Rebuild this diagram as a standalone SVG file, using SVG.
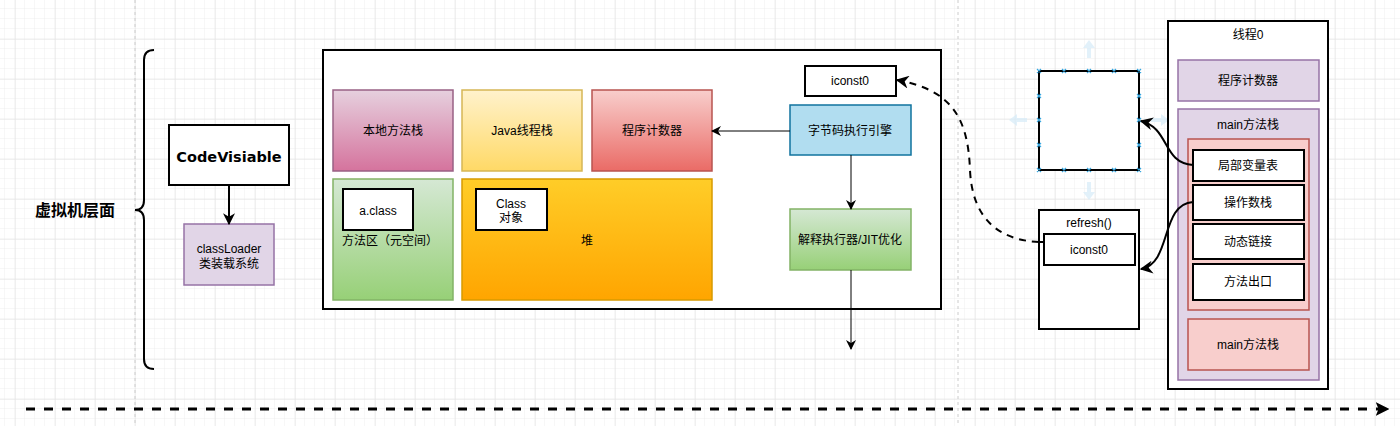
<svg xmlns="http://www.w3.org/2000/svg" width="1400" height="426" viewBox="0 0 1400 426">
<defs>
<pattern id="minor" width="10" height="10" patternUnits="userSpaceOnUse" x="5" y="9">
<path d="M10 0 V10 M0 10 H10" fill="none" stroke="#eeeeee" stroke-width="1"/>
</pattern>
<pattern id="major" width="40" height="40" patternUnits="userSpaceOnUse" x="15" y="-1">
<path d="M0 0 V40 M0 0 H40" fill="none" stroke="#e2e2e2" stroke-width="1"/>
</pattern>
<linearGradient id="gPink" x1="0" y1="0" x2="0" y2="1"><stop offset="0" stop-color="#e6d0de"/><stop offset="1" stop-color="#d5739d"/></linearGradient>
<linearGradient id="gYellow" x1="0" y1="0" x2="0" y2="1"><stop offset="0" stop-color="#fff2cc"/><stop offset="1" stop-color="#ffd966"/></linearGradient>
<linearGradient id="gRed" x1="0" y1="0" x2="0" y2="1"><stop offset="0" stop-color="#f8cecc"/><stop offset="1" stop-color="#ea6b66"/></linearGradient>
<linearGradient id="gGreen" x1="0" y1="0" x2="0" y2="1"><stop offset="0" stop-color="#d5e8d4"/><stop offset="1" stop-color="#97d077"/></linearGradient>
<linearGradient id="gOrange" x1="0" y1="0" x2="0" y2="1"><stop offset="0" stop-color="#ffcd28"/><stop offset="1" stop-color="#ffa500"/></linearGradient>
<marker id="arr" viewBox="0 0 10 10" refX="9" refY="5" markerWidth="10" markerHeight="10" markerUnits="userSpaceOnUse" orient="auto">
<path d="M0,0 L10,5 L0,10 L3,5 Z" fill="#000"/>
</marker>
<marker id="arrBigS" viewBox="0 0 10 10" refX="9" refY="5" markerWidth="6" markerHeight="6" markerUnits="strokeWidth" orient="auto">
<path d="M0,0 L10,5 L0,10 L3,5 Z" fill="#000"/>
</marker>
<marker id="arrDash" viewBox="0 0 10 10" refX="9" refY="5" markerWidth="6.5" markerHeight="6.5" markerUnits="strokeWidth" orient="auto">
<path d="M0,0 L10,5 L0,10 L3,5 Z" fill="#000"/>
</marker>
<marker id="arrBottom" viewBox="0 0 10 10" refX="9" refY="5" markerWidth="4.5" markerHeight="4.5" markerUnits="strokeWidth" orient="auto">
<path d="M0,0 L10,5 L0,10 L2,5 Z" fill="#000"/>
</marker>
</defs>
<style>
text{font-family:"Liberation Sans","Noto Sans CJK SC",sans-serif;font-size:12px;fill:#000;text-anchor:middle;dominant-baseline:central}
.box{stroke:#000;stroke-width:2;fill:#fff}
.edge{fill:none;stroke:#000}
.xm{stroke:#3aa8e0;stroke-width:1.2}
.hint{fill:#d6ebf8;opacity:0.7}
</style>
<rect width="1400" height="426" fill="#fff"/>
<rect width="1400" height="426" fill="url(#minor)"/>
<rect width="1400" height="426" fill="url(#major)"/>
<path d="M135 0 V426 M958 0 V426" stroke="#cccccc" stroke-width="1" stroke-dasharray="3 3"/>

<g id="brace">
<path d="M154,50 Q144,50 144,60 L144,200 Q144,210 135,210 Q144,210 144,220 L144,359 Q144,369 154,369" fill="none" stroke="#000" stroke-width="2"/>
</g>
<g id="jvm-label"><text x="75" y="210" style="font-size:16px;font-weight:bold">虚拟机层面</text></g>

<g id="codevisiable">
<rect class="box" x="169" y="125" width="120" height="60"/>
<text x="229" y="157" style="font-family:'DejaVu Sans','Noto Sans CJK SC',sans-serif;font-size:14.5px;font-weight:bold">CodeVisiable</text>
</g>
<g id="classloader">
<rect x="184" y="224" width="90" height="61" fill="#e1d5e7" stroke="#9673a6" stroke-width="1.5"/>
<text x="229" y="249">classLoader</text>
<text x="229" y="264">类装载系统</text>
</g>

<g id="runtime">
<rect class="box" x="323" y="50" width="618" height="259"/>
</g>
<g id="native-stack">
<rect x="333" y="90" width="120" height="81" fill="url(#gPink)" stroke="#996185" stroke-width="1.5"/>
<text x="393" y="131">本地方法栈</text>
</g>
<g id="java-stack">
<rect x="462" y="90" width="120" height="81" fill="url(#gYellow)" stroke="#d6b656" stroke-width="1.5"/>
<text x="522" y="131">Java线程栈</text>
</g>
<g id="pc">
<rect x="592" y="90" width="120" height="81" fill="url(#gRed)" stroke="#b85450" stroke-width="1.5"/>
<text x="652" y="131">程序计数器</text>
</g>
<g id="method-area">
<rect x="333" y="179" width="120" height="121" fill="url(#gGreen)" stroke="#82b366" stroke-width="1.5"/>
<text x="390" y="241">方法区（元空间）</text>
</g>
<g id="aclass">
<rect class="box" x="343" y="189" width="70" height="41"/>
<text x="378" y="211">a.class</text>
</g>
<g id="heap">
<rect x="462" y="179" width="250" height="121" fill="url(#gOrange)" stroke="#d79b00" stroke-width="1.5"/>
<text x="587" y="241">堆</text>
</g>
<g id="class-obj">
<rect class="box" x="476" y="189" width="71" height="41"/>
<text x="511" y="204">Class</text>
<text x="511" y="218">对象</text>
</g>
<g id="iconst0-a">
<rect class="box" x="805" y="66" width="91" height="30"/>
<text x="850" y="81">iconst0</text>
</g>
<g id="engine">
<rect x="790" y="105" width="121" height="50" fill="#b1ddf0" stroke="#10739e" stroke-width="1.5"/>
<text x="850" y="131">字节码执行引擎</text>
</g>
<g id="interp">
<rect x="790" y="209" width="121" height="61" fill="url(#gGreen)" stroke="#82b366" stroke-width="1.5"/>
<text x="850" y="240">解释执行器/JIT优化</text>
</g>

<g id="hover-hints">
<path class="hint" d="M1089,40 L1083,48 L1087,48 L1087,58 L1091,58 L1091,48 L1095,48 Z"/>
<path class="hint" d="M1089,200 L1083,192 L1087,192 L1087,182 L1091,182 L1091,192 L1095,192 Z"/>
<path class="hint" d="M1009,120 L1017,114 L1017,118 L1027,118 L1027,122 L1017,122 L1017,126 Z"/>
<path class="hint" d="M1169,120 L1161,114 L1161,118 L1151,118 L1151,122 L1161,122 L1161,126 Z"/>
</g>
<g id="empty-frame">
<rect class="box" x="1039" y="71" width="100" height="99"/>
<g class="xm">
<path d="M1037,69 l4,4 m0,-4 l-4,4 M1062,69 l4,4 m0,-4 l-4,4 M1087,69 l4,4 m0,-4 l-4,4 M1112,69 l4,4 m0,-4 l-4,4 M1137,69 l4,4 m0,-4 l-4,4"/>
<path d="M1037,168 l4,4 m0,-4 l-4,4 M1062,168 l4,4 m0,-4 l-4,4 M1087,168 l4,4 m0,-4 l-4,4 M1112,168 l4,4 m0,-4 l-4,4 M1137,168 l4,4 m0,-4 l-4,4"/>
<path d="M1037,94 l4,4 m0,-4 l-4,4 M1037,118 l4,4 m0,-4 l-4,4 M1037,143 l4,4 m0,-4 l-4,4"/>
<path d="M1137,94 l4,4 m0,-4 l-4,4 M1137,118 l4,4 m0,-4 l-4,4 M1137,143 l4,4 m0,-4 l-4,4"/>
</g>
</g>
<g id="refresh-frame">
<rect class="box" x="1039" y="210" width="100" height="119"/>
<text x="1089" y="223">refresh()</text>
</g>
<g id="iconst0-b">
<rect class="box" x="1044" y="234" width="91" height="31"/>
<text x="1089" y="250">iconst0</text>
</g>

<g id="thread0">
<rect class="box" x="1168" y="21" width="160" height="368"/>
<text x="1248" y="35">线程0</text>
</g>
<g id="thread-pc">
<rect x="1178" y="60" width="141" height="41" fill="#e1d5e7" stroke="#9673a6" stroke-width="1.5"/>
<text x="1248" y="81">程序计数器</text>
</g>
<g id="main-stack">
<rect x="1178" y="109" width="141" height="271" fill="#e1d5e7" stroke="#9673a6" stroke-width="1.5"/>
<text x="1248" y="125">main方法栈</text>
</g>
<g id="frame">
<rect x="1188" y="139" width="121" height="171" fill="#f8cecc" stroke="#b85450" stroke-width="1.5"/>
</g>
<g id="locals">
<rect class="box" x="1193" y="150" width="111" height="31"/>
<text x="1248" y="166">局部变量表</text>
</g>
<g id="operand">
<rect class="box" x="1193" y="185" width="111" height="35"/>
<text x="1248" y="203">操作数栈</text>
</g>
<g id="dynlink">
<rect class="box" x="1193" y="224" width="111" height="35"/>
<text x="1248" y="242">动态链接</text>
</g>
<g id="ret">
<rect class="box" x="1193" y="264" width="111" height="36"/>
<text x="1248" y="282">方法出口</text>
</g>
<g id="main-stack-2">
<rect x="1188" y="319" width="121" height="51" fill="#f8cecc" stroke="#b85450" stroke-width="1.5"/>
<text x="1248" y="345">main方法栈</text>
</g>

<g id="connectors">
<path class="edge" d="M229,185 V224" stroke-width="2" marker-end="url(#arrBigS)"/>
<path class="edge" d="M790,131 H712" stroke-width="1" marker-end="url(#arr)"/>
<path class="edge" d="M851,155 V209" stroke-width="1" marker-end="url(#arr)"/>
<path class="edge" d="M851,270 V349" stroke-width="1" marker-end="url(#arr)"/>
<path class="edge" d="M1039,242 H1044" stroke-width="2"/>
<path class="edge" d="M1039,242 C995,240 972,215 970,170 C968,118 952,90 897,80" stroke-width="2" stroke-dasharray="7 6" marker-end="url(#arrDash)"/>
<path class="edge" d="M1193,165 C1162,163 1170,128 1141,121" stroke-width="2" marker-end="url(#arrDash)"/>
<path class="edge" d="M1193,202 C1160,204 1172,264 1141,269" stroke-width="2" marker-end="url(#arrDash)"/>
<path class="edge" d="M26,409 H1388" stroke-width="3" stroke-dasharray="9 9" marker-end="url(#arrBottom)"/>
</g>
</svg>
